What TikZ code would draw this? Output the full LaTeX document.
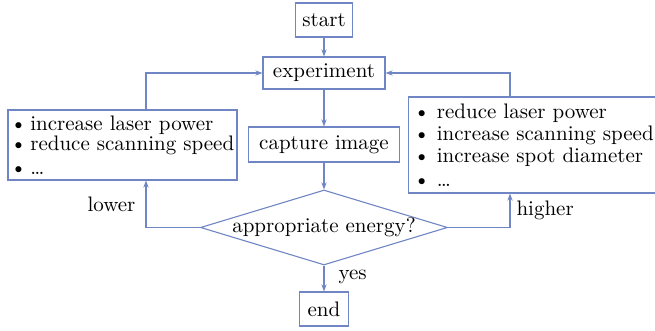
\documentclass[tikz,border=0pt]{standalone}
\usetikzlibrary{shapes.geometric,arrows.meta}
\definecolor{ln}{RGB}{112,134,196}
\begin{document}
\begin{tikzpicture}[x=0.5pt,y=-0.5pt, font=\fontsize{10.5}{12}\selectfont,
  box/.style={draw=ln, line width=0.55pt, inner sep=0pt, align=center},
  dia/.style={draw=ln, line width=0.55pt, shape=diamond, aspect=3.3, inner sep=0pt, minimum width=123.5pt, minimum height=37.5pt},
  lst/.style={draw=ln, line width=0.55pt, inner ysep=0pt, align=left},
  arr/.style={draw=ln, line width=0.55pt, -{Stealth[length=3.5pt,width=2.6pt]}},
  lbl/.style={inner sep=3pt}]
\useasboundingbox (0,0) rectangle (655,331);
\node[box, minimum width=28.5pt, minimum height=17pt] (start) at (324,20) {start};
\node[box, minimum width=61pt, minimum height=16pt] (exp) at (324,73) {experiment};
\node[box, minimum width=75.5pt, minimum height=17.5pt] (cap) at (324,144.5) {capture image};
\node[dia] (dec) at (324,227.5) {appropriate energy?};
\node[box, minimum width=24.5pt, minimum height=17pt] (end) at (324,309) {end};
\node[lst, text width=112pt, inner xsep=1.25pt, minimum height=35pt] (lb) at (122.5,145)
  {\baselineskip=10pt \textbullet\,increase laser power\\ \textbullet\,reduce scanning speed\\ \textbullet\,\dots};
\node[lst, text width=130pt, minimum height=48pt, inner xsep=2.5pt, anchor=west] (rb) at (408,145)
  {\baselineskip=11pt \textbullet\ reduce laser power\\ \textbullet\ increase scanning speed\\ \textbullet\ increase spot diameter\\ \textbullet\ \dots};
\coordinate (lx) at (146,0);
\coordinate (rx) at (510,0);
\draw[arr] (start) -- (exp);
\draw[arr] (exp) -- (cap);
\draw[arr] (cap) -- (dec);
\draw[arr] (dec) -- node[right, lbl, pos=0.45, xshift=4pt] {yes} (end);
\draw[arr] (dec.west) -| node[pos=0.75, left, lbl, xshift=-2pt] {lower} (lx |- lb.south);
\draw[arr] (lx |- lb.north) |- (exp.west);
\draw[arr] (dec.east) -| node[pos=0.75, right, lbl] {higher} (rx |- rb.south);
\draw[arr] (rx |- rb.north) |- (exp.east);
\end{tikzpicture}
\end{document}
